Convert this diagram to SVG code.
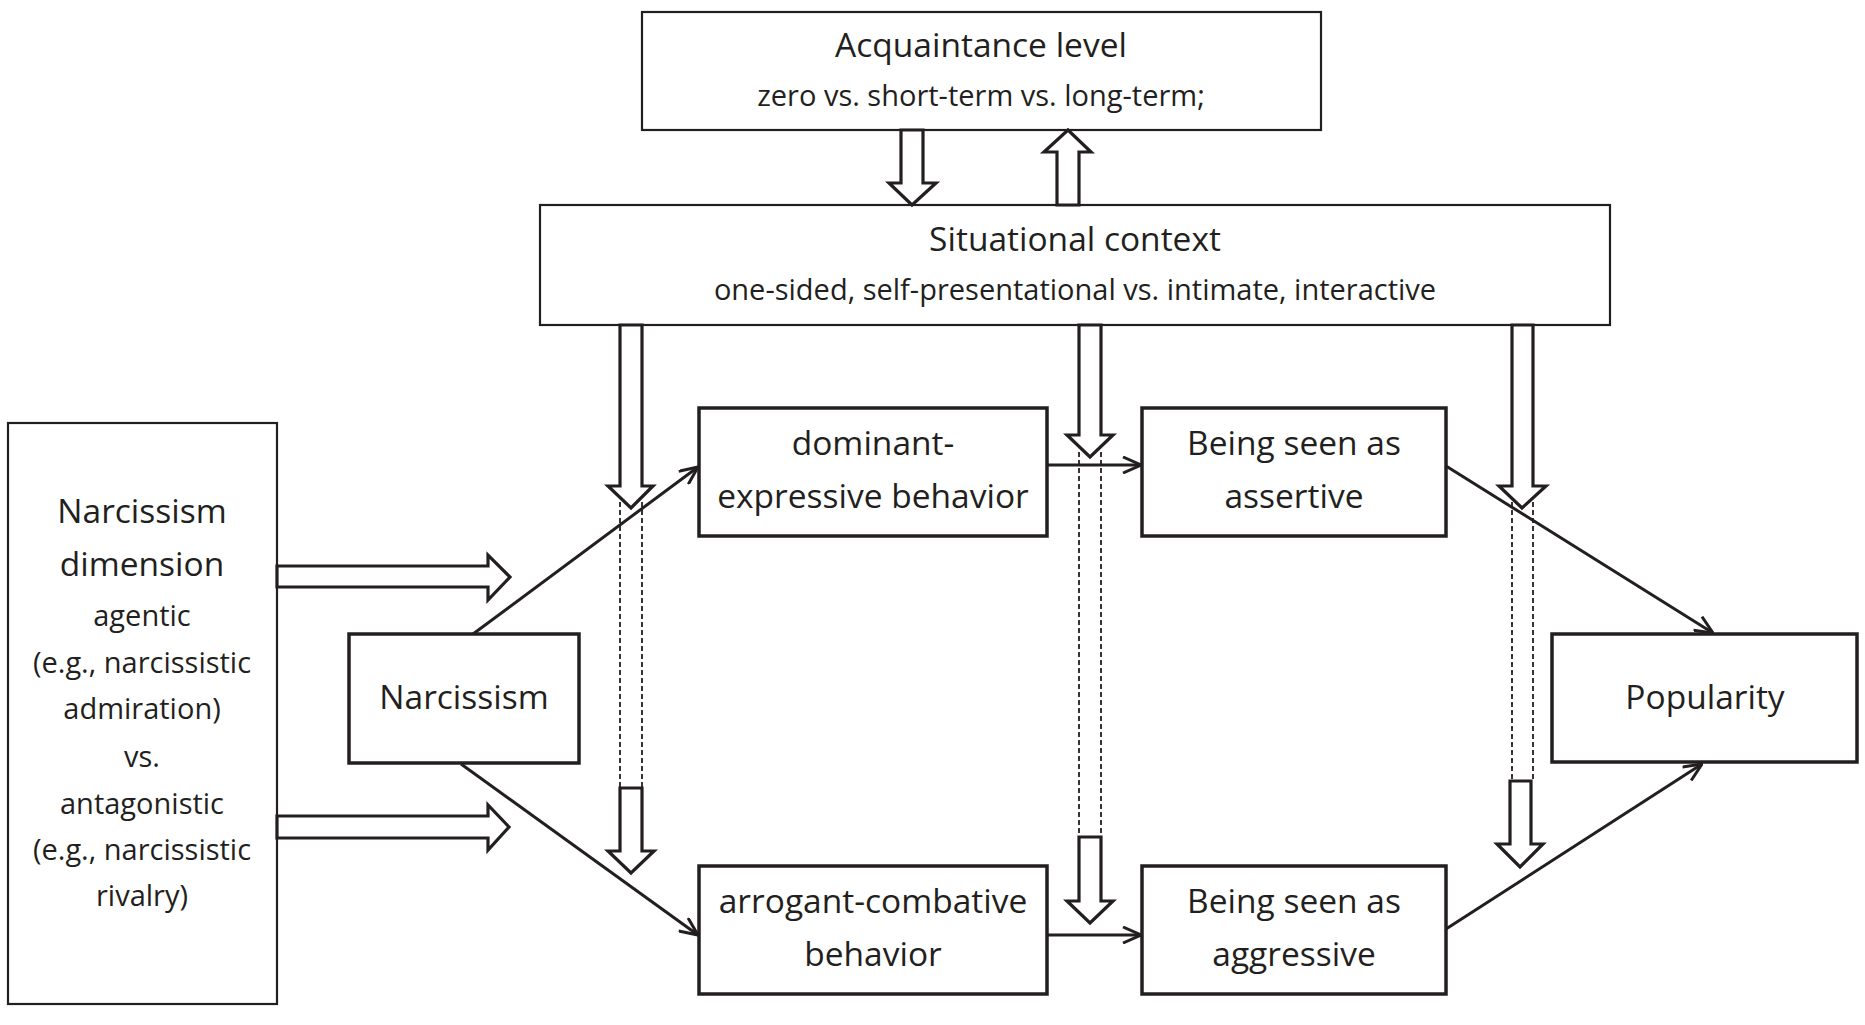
<svg xmlns="http://www.w3.org/2000/svg" width="1865" height="1025" viewBox="0 0 1865 1025">
<defs>
<style>
.box{fill:#fff;stroke:#231f20;stroke-width:3.5}
.thin{fill:#fff;stroke:#231f20;stroke-width:2.2}
.blk{fill:#fff;stroke:#231f20;stroke-width:3.2;stroke-linejoin:miter}
.dash{fill:none;stroke:#231f20;stroke-width:1.8;stroke-dasharray:5 3}
.ln{fill:none;stroke:#231f20;stroke-width:3}
text{font-family:"Open Sans","Noto Sans","Liberation Sans",sans-serif;fill:#231f20;text-anchor:middle}
.big{font-size:33.5px}
.sm{font-size:29px}
</style>
<marker id="ah" viewBox="0 0 20 18" refX="19" refY="9" markerWidth="20" markerHeight="18" markerUnits="userSpaceOnUse" orient="auto">
<path d="M1,1 L19,9 L1,17" fill="none" stroke="#231f20" stroke-width="3"/>
</marker>
</defs>

<g id="acquaintance">
<rect class="thin" x="642" y="12" width="679" height="118"/>
<text class="big" x="981" y="57">Acquaintance level</text>
<text class="sm" x="981" y="106">zero vs. short-term vs. long-term;</text>
</g>

<g id="situational">
<rect class="thin" x="540" y="205" width="1070" height="120"/>
<text class="big" x="1075" y="251">Situational context</text>
<text class="sm" x="1075" y="300">one-sided, self-presentational vs. intimate, interactive</text>
</g>

<g id="dimension">
<rect class="thin" x="8" y="423" width="269" height="581"/>
<text class="big" x="142" y="523">Narcissism</text>
<text class="big" x="142" y="576">dimension</text>
<text class="sm" x="142" y="626">agentic</text>
<text class="sm" x="142" y="673">(e.g., narcissistic</text>
<text class="sm" x="142" y="719">admiration)</text>
<text class="sm" x="142" y="767">vs.</text>
<text class="sm" x="142" y="814">antagonistic</text>
<text class="sm" x="142" y="860">(e.g., narcissistic</text>
<text class="sm" x="142" y="906">rivalry)</text>
</g>

<g id="narcissism">
<rect class="box" x="349" y="634" width="230" height="129"/>
<text class="big" x="464" y="709">Narcissism</text>
</g>

<g id="dominant">
<rect class="box" x="699" y="408" width="348" height="128"/>
<text class="big" x="873" y="455">dominant-</text>
<text class="big" x="873" y="508">expressive behavior</text>
</g>

<g id="assertive">
<rect class="box" x="1142" y="408" width="304" height="128"/>
<text class="big" x="1294" y="455">Being seen as</text>
<text class="big" x="1294" y="508">assertive</text>
</g>

<g id="arrogant">
<rect class="box" x="699" y="866" width="348" height="128"/>
<text class="big" x="873" y="913">arrogant-combative</text>
<text class="big" x="873" y="966">behavior</text>
</g>

<g id="aggressive">
<rect class="box" x="1142" y="866" width="304" height="128"/>
<text class="big" x="1294" y="913">Being seen as</text>
<text class="big" x="1294" y="966">aggressive</text>
</g>

<g id="popularity">
<rect class="box" x="1552" y="634" width="305" height="128"/>
<text class="big" x="1705" y="709">Popularity</text>
</g>

<g id="connectors">
<polygon class="blk" points="901,130 923,130 923,183 936,183 912,205 889,183 901,183"/>
<polygon class="blk" points="1057,205 1079,205 1079,152 1091,152 1068,130 1044,152 1057,152"/>
<polygon class="blk" points="620,325 642,325 642,486 653,486 631,508 608,486 620,486"/>
<line class="dash" x1="620" y1="502" x2="620" y2="788"/>
<line class="dash" x1="642" y1="502" x2="642" y2="788"/>
<polygon class="blk" points="620,788 642,788 642,851 654,851 631,873 608,851 620,851"/>
<polygon class="blk" points="1079,325 1101,325 1101,435 1113,435 1090,457 1067,435 1079,435"/>
<line class="dash" x1="1079" y1="452" x2="1079" y2="837"/>
<line class="dash" x1="1101" y1="452" x2="1101" y2="837"/>
<polygon class="blk" points="1079,837 1101,837 1101,901 1113,901 1090,923 1067,901 1079,901"/>
<polygon class="blk" points="1512,325 1533,325 1533,486 1546,486 1522,508 1499,486 1512,486"/>
<line class="dash" x1="1512" y1="502" x2="1512" y2="781"/>
<line class="dash" x1="1533" y1="502" x2="1533" y2="781"/>
<polygon class="blk" points="1510,781 1531,781 1531,844 1543,844 1520,867 1497,844 1510,844"/>
<polygon class="blk" points="277,566 488,566 488,555 510,577 488,600 488,587 277,587"/>
<polygon class="blk" points="277,816 488,816 488,805 509,827 488,850 488,838 277,838"/>
<line class="ln" x1="473" y1="634" x2="698" y2="467" marker-end="url(#ah)"/>
<line class="ln" x1="461" y1="764" x2="698" y2="935" marker-end="url(#ah)"/>
<line class="ln" x1="1047" y1="465" x2="1141" y2="465" marker-end="url(#ah)"/>
<line class="ln" x1="1047" y1="935" x2="1141" y2="935" marker-end="url(#ah)"/>
<line class="ln" x1="1446" y1="466" x2="1713" y2="633" marker-end="url(#ah)"/>
<line class="ln" x1="1446" y1="929" x2="1702" y2="764" marker-end="url(#ah)"/>
</g>
</svg>
